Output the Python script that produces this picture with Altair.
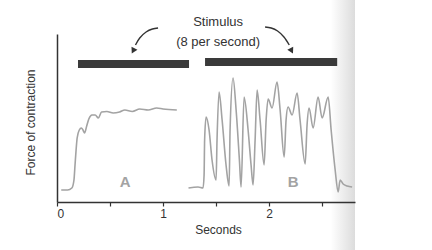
import altair as alt
import pandas as pd

# ---- data (seconds, force in arbitrary units) ----
a_t = [0.04, 0.10, 0.14, 0.16, 0.17, 0.18, 0.19, 0.21, 0.23, 0.245, 0.26, 0.28, 0.30, 0.33, 0.36,
       0.39, 0.42, 0.47, 0.53, 0.59, 0.64, 0.71, 0.78, 0.86, 0.94, 1.00, 1.13]
a_f = [12, 12, 14, 22, 37, 52, 64, 72, 74, 72, 69, 76, 83, 87, 87,
       84, 90, 90.5, 89, 90, 92, 90.5, 93, 92, 94, 93, 92]

b_t = [1.24, 1.33, 1.377, 1.387, 1.392, 1.406, 1.434, 1.462, 1.50, 1.509, 1.528, 1.557, 1.594, 1.623,
       1.632, 1.66, 1.689, 1.72, 1.736, 1.764, 1.802, 1.83, 1.849, 1.868, 1.887, 1.915, 1.953, 1.972,
       1.991, 2.028, 2.075, 2.104, 2.142, 2.16, 2.179, 2.217, 2.264, 2.292, 2.34, 2.358, 2.377, 2.415,
       2.462, 2.50, 2.557, 2.585, 2.623, 2.651, 2.67, 2.698, 2.736, 2.783]
b_f = [14, 15, 14, 27, 62, 85, 72, 42, 22, 62, 110, 82, 37, 16,
       72, 124, 92, 42, 15, 105, 72, 37, 17, 62, 112, 82, 37, 82,
       103, 94, 120, 92, 45, 82, 95, 87, 109, 82, 38, 77, 94, 74,
       105, 84, 105, 72, 32, 10, 22, 18, 16, 15]

bar_start = [0.198, 1.396]
bar_end = [1.245, 2.642]
bar_low = [134, 136]
bar_high = [142, 144]

letters = ["A", "B"]
letter_t = [0.642, 2.226]
letter_f = [20, 20]

stim_lines = ["Stimulus", "(8 per second)"]
stim_t = [1.519, 1.519]
stim_f = [180, 160]

arrow_id = ["L", "L", "L", "L", "L", "R", "R", "R", "R", "R"]
arrow_seq = [0, 1, 2, 3, 4, 0, 1, 2, 3, 4]
arrow_t = [0.953, 0.90, 0.84, 0.78, 0.74, 1.962, 2.02, 2.08, 2.14, 2.19]
arrow_f = [174, 173, 170, 164, 157, 175, 174, 171, 165, 157]
head_t = [0.722, 2.208]
head_f = [152, 152]
head_angle = [208, 152]

x_ticks = [0, 0.5, 1, 1.5, 2, 2.5]

shade_t = [2.58]
shade_t2 = [2.81]
shade_f = [-48]
shade_f2 = [202]

XMAX = 2.81
YMAX = 168
W, H = 298, 168
TRACE = "#a3a3a3"
INK = "#333333"
FONT = "Liberation Sans"

trace = pd.concat([
    pd.DataFrame({"t": a_t, "f": a_f, "s": "A"}),
    pd.DataFrame({"t": b_t, "f": b_f, "s": "B"}),
])

xs = alt.Scale(domain=[0, XMAX], nice=False, zero=False)
ys = alt.Scale(domain=[0, YMAX], nice=False)

x_axis = alt.Axis(values=x_ticks,
                  labelExpr="datum.value % 1 == 0 ? format(datum.value, 'd') : ''",
                  grid=False, domainColor=INK, domainWidth=1.5, tickColor=INK, tickSize=4,
                  tickWidth=1.2, labelColor=INK, labelFont=FONT, labelFontSize=12, labelPadding=2,
                  title="Seconds", titleFont=FONT, titleFontSize=12, titleFontWeight="normal",
                  titleColor=INK, titleX=161, titleY=27, titleBaseline="middle", titleAlign="center",
                  zindex=1)
y_axis = alt.Axis(ticks=False, labels=False, grid=False, domainColor=INK, domainWidth=1.5,
                  title="Force of contraction", titleFont=FONT, titleFontSize=12,
                  titleFontWeight="normal", titleColor=INK, titleX=-27, titleY=88,
                  titleAlign="center", titleBaseline="middle", titleAngle=-90, zindex=1)

shade = alt.Chart(pd.DataFrame({"x1": shade_t, "x2": shade_t2, "y1": shade_f, "y2": shade_f2})).mark_rect(
    fill=alt.Gradient(gradient="linear", x1=0, x2=1, y1=0, y2=0,
                      stops=[alt.GradientStop(offset=0, color="#ffffff"),
                             alt.GradientStop(offset=1, color="#dcdcdc")]),
    clip=False).encode(
    x=alt.X("x1:Q", scale=xs, axis=x_axis), x2="x2:Q",
    y=alt.Y("y1:Q", scale=ys, axis=y_axis), y2="y2:Q")

lines = alt.Chart(trace).mark_line(color=TRACE, strokeWidth=1.6, interpolate="monotone").encode(
    x=alt.X("t:Q", scale=xs, axis=x_axis),
    y=alt.Y("f:Q", scale=ys, axis=y_axis),
    detail="s:N",
)

bars = alt.Chart(pd.DataFrame({"x1": bar_start, "x2": bar_end, "y1": bar_low, "y2": bar_high})).mark_rect(
    color="#3a3a3a").encode(
    x=alt.X("x1:Q", scale=xs), x2="x2:Q", y=alt.Y("y1:Q", scale=ys), y2="y2:Q")

letter_layer = alt.Chart(pd.DataFrame({"t": letters, "x": letter_t, "y": letter_f})).mark_text(
    font=FONT, fontSize=15, fontWeight="bold", color=TRACE).encode(
    x=alt.X("x:Q", scale=xs), y=alt.Y("y:Q", scale=ys), text="t:N")

stim = alt.Chart(pd.DataFrame({"t": stim_lines, "x": stim_t, "y": stim_f})).mark_text(
    font=FONT, fontSize=13, color=INK).encode(
    x=alt.X("x:Q", scale=xs), y=alt.Y("y:Q", scale=ys), text="t:N")

arrows = alt.Chart(pd.DataFrame({"id": arrow_id, "o": arrow_seq, "x": arrow_t, "y": arrow_f})).mark_line(
    color=INK, strokeWidth=1.4, interpolate="catmull-rom").encode(
    x=alt.X("x:Q", scale=xs), y=alt.Y("y:Q", scale=ys), detail="id:N", order="o:Q")

heads = alt.Chart(pd.DataFrame({"x": head_t, "y": head_f, "a": head_angle})).mark_point(
    shape="triangle", filled=True, color=INK, size=45, opacity=1).encode(
    x=alt.X("x:Q", scale=xs), y=alt.Y("y:Q", scale=ys), angle=alt.Angle("a:Q", scale=None))

chart = alt.layer(shade, bars, lines, letter_layer, stim, arrows, heads).properties(
    width=W, height=H,
    autosize=alt.AutoSizeParams(type="none"),
    padding={"left": 57, "top": 34, "right": 77, "bottom": 48},
    background="white",
).configure_view(stroke=None)

chart.save("out.html", embed_options={"renderer": "svg", "actions": False})
